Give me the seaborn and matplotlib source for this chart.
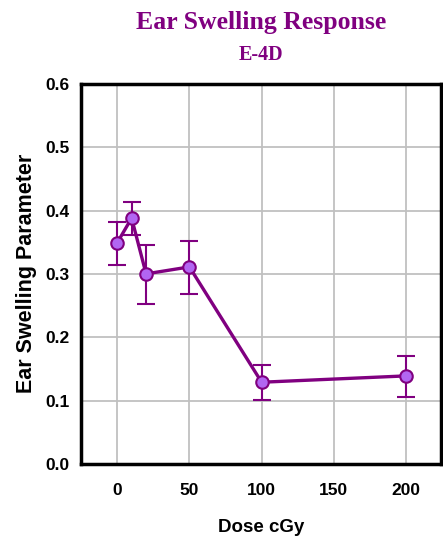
import matplotlib
matplotlib.use("Agg")
import matplotlib.pyplot as plt
import seaborn as sns
import pandas as pd

dose = [0, 10, 20, 50, 100, 200]
response = [0.349, 0.388, 0.300, 0.311, 0.129, 0.139]
err_low = [0.035, 0.026, 0.047, 0.043, 0.028, 0.033]
err_high = [0.033, 0.026, 0.046, 0.041, 0.027, 0.031]
xticks = [0, 50, 100, 150, 200]
yticks = [0.0, 0.1, 0.2, 0.3, 0.4, 0.5, 0.6]

df = pd.DataFrame({"dose": dose, "response": response})

sns.set_style("white")
plt.rcParams['font.family'] = ['Liberation Sans', 'DejaVu Sans']
plt.rcParams['text.color'] = 'black'
plt.rcParams['axes.labelcolor'] = 'black'

fig = plt.figure(figsize=(4.43, 5.37), dpi=100)
ax = fig.add_axes([0.183, 0.136, 0.812, 0.708])

purple = "#800080"
ax.errorbar(dose, response, yerr=[err_low, err_high], fmt="none",
            ecolor=purple, elinewidth=1.5, capsize=6.5, capthick=1.5, zorder=3)
sns.lineplot(data=df, x="dose", y="response", ax=ax, color=purple,
             linewidth=2.4, marker="o", markersize=9,
             markerfacecolor="#B266F2", markeredgecolor=purple,
             markeredgewidth=1.5, zorder=4)

ax.set_xlim(-25, 224)
ax.set_ylim(0, 0.6)
ax.set_xticks(xticks)
ax.set_yticks(yticks)
ax.set_yticklabels([f"{v:.1f}" for v in yticks])
ax.grid(True, color="#c0c0c0", linewidth=1.3)
ax.set_axisbelow(True)
for s in ax.spines.values():
    s.set_visible(True)
    s.set_color("black")
    s.set_linewidth(2.5)
ax.tick_params(axis="both", which="both", direction="out", length=5, width=1.5,
               colors="black", labelsize=12.5, pad=3)
ax.tick_params(axis="x", pad=9)
for lab in ax.get_xticklabels() + ax.get_yticklabels():
    lab.set_fontweight("bold")
ax.set_xlabel("Dose cGy", fontsize=13.5, fontweight="bold", labelpad=15, color="black")
ax.set_ylabel("Ear Swelling Parameter", fontsize=15.5, fontweight="bold", labelpad=6, color="black")

fig.text(0.59, 0.958, "Ear Swelling Response", ha="center", va="center",
         fontsize=18.5, fontweight="bold", color=purple, family="Liberation Serif")
fig.text(0.59, 0.898, "E-4D", ha="center", va="center",
         fontsize=14.5, fontweight="bold", color=purple, family="Liberation Serif")

fig.savefig("out.png", dpi=100)
